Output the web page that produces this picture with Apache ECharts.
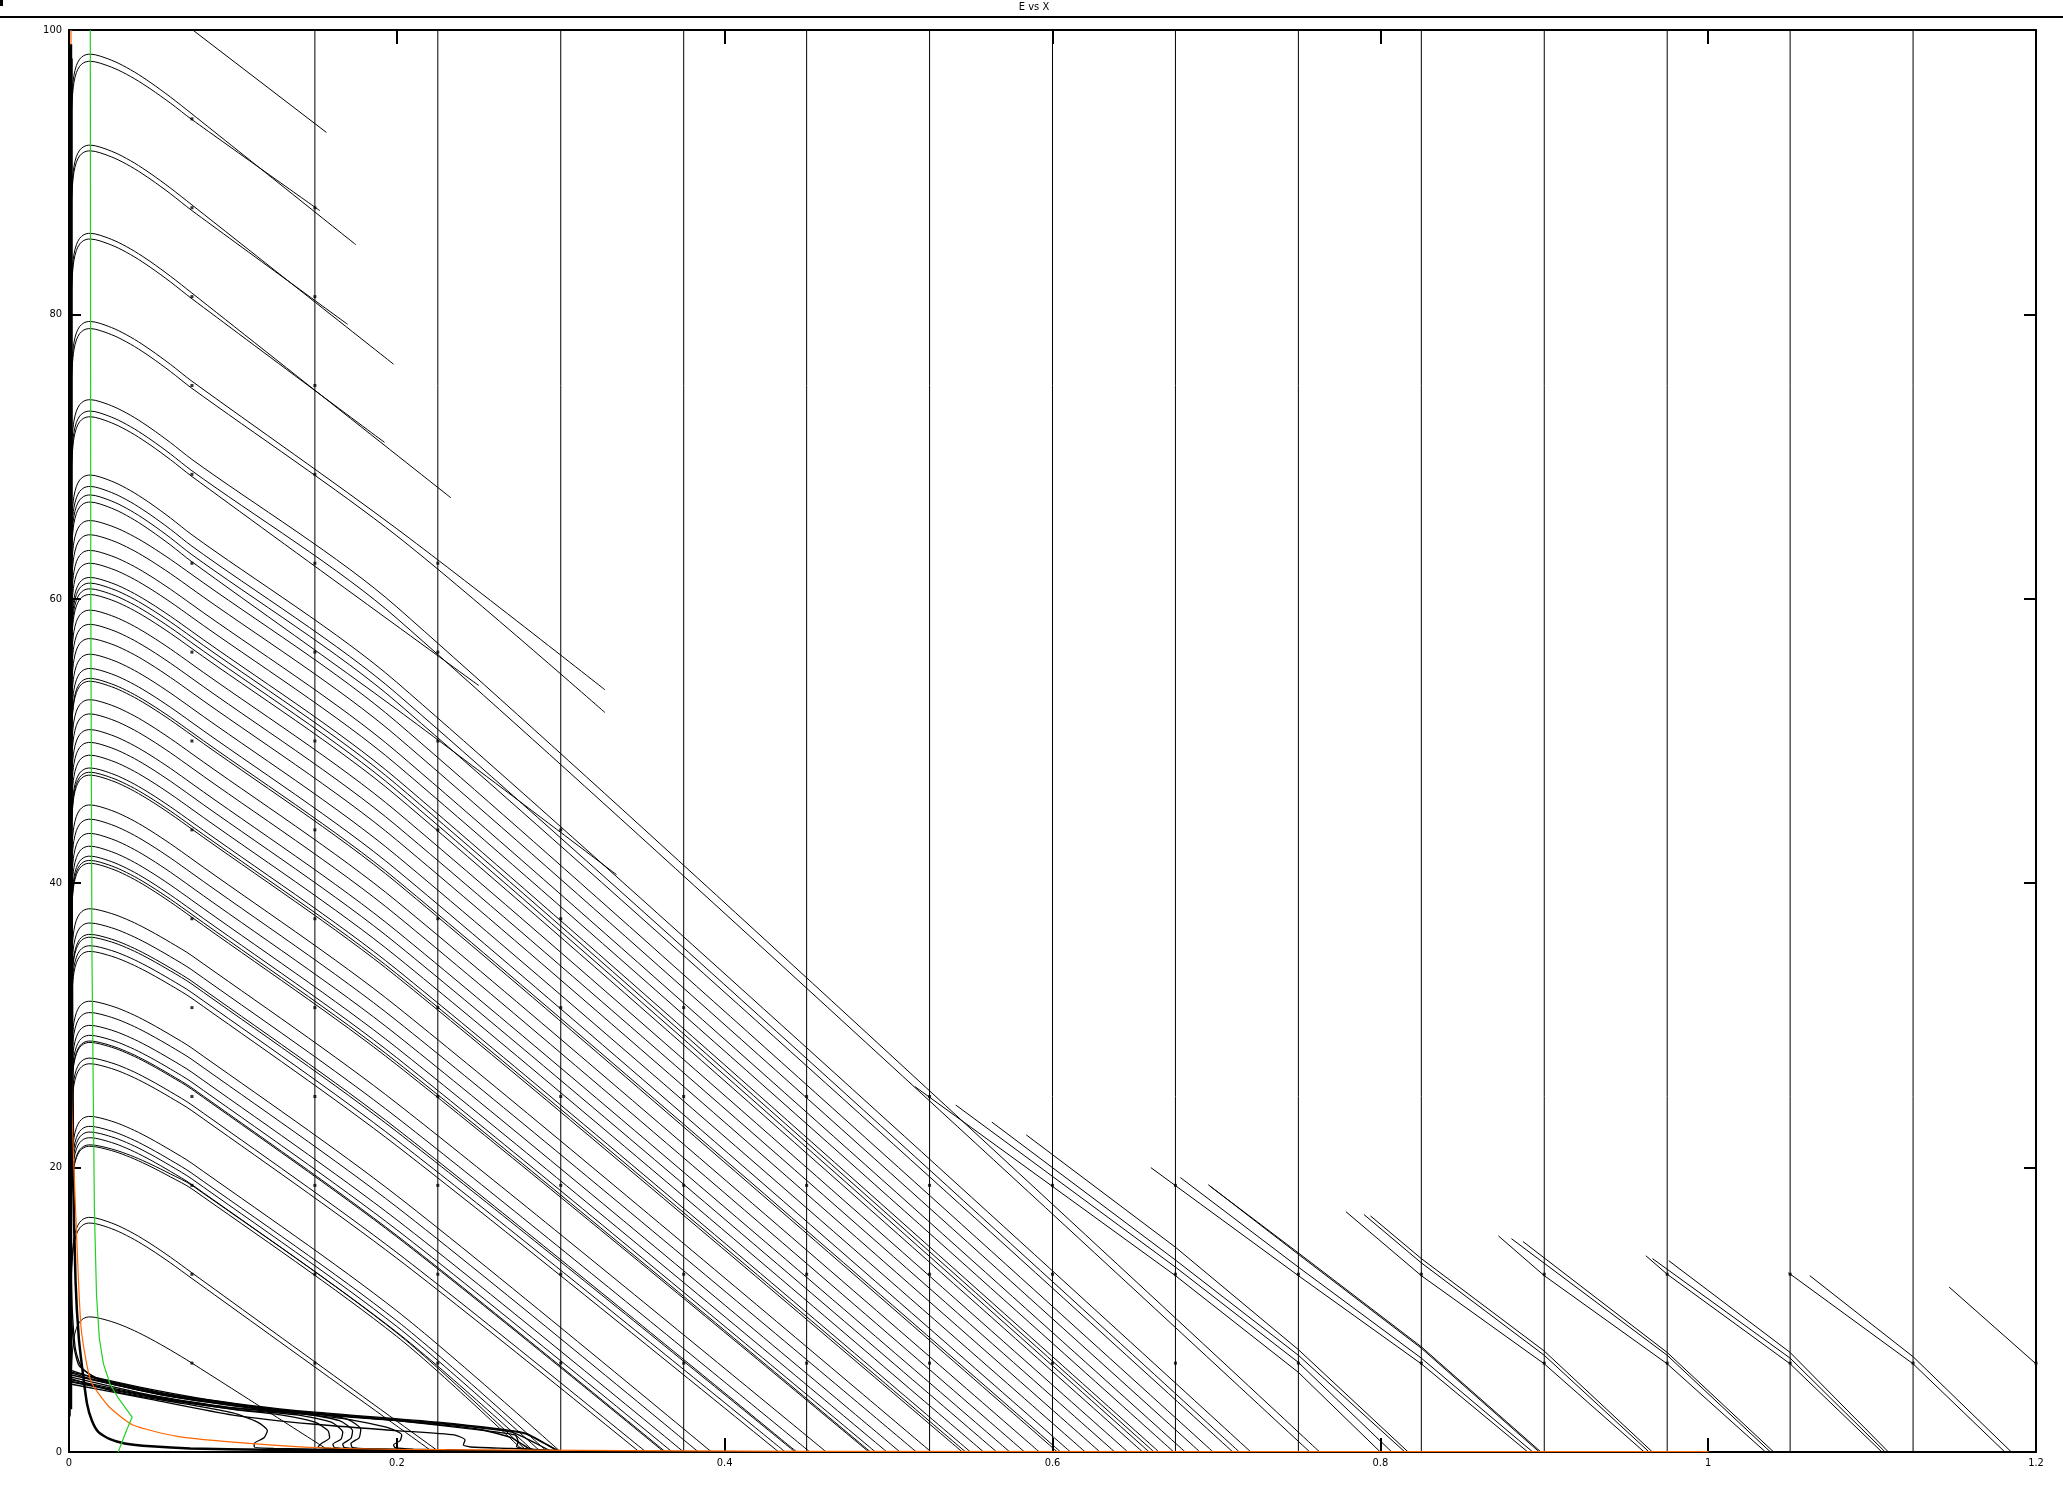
<!DOCTYPE html>
<html>
<head>
<meta charset="utf-8">
<script src="https://cdn.jsdelivr.net/npm/echarts@6/dist/echarts.min.js"></script>
<style>
html,body{margin:0;padding:0;background:#fff;}
#chart{width:2063px;height:1486px;}
</style>
</head>
<body>
<div id="chart"></div>
<script>
// ---------------- data ----------------
const chartTitle = 'E vs X';
const xTickValues = [0, 0.2, 0.4, 0.6, 0.8, 1, 1.2];
const yTickValues = [0, 20, 40, 60, 80, 100];

// constant-X trajectories (vertical lines)
const verticalX = [0.15, 0.225, 0.3, 0.375, 0.45, 0.525, 0.6, 0.675, 0.75, 0.825, 0.9, 0.975, 1.05, 1.125];

// shape of the hump near X=0: x positions, rise below peak, share of the fall to E at X=0.075
const humpX    = [0.0008, 0.0012, 0.002, 0.003, 0.0045, 0.0065, 0.009, 0.012, 0.016, 0.022, 0.03, 0.04, 0.05, 0.062, 0.075];
const humpRise = [7, 4.5, 2.6, 1.5, 0.8, 0.35, 0.1, 0, 0, 0, 0, 0, 0, 0, 0];
const humpFall = [0, 0, 0, 0, 0, 0, 0, 0, 0.01, 0.06, 0.15, 0.3, 0.48, 0.72, 1];
const kneeX = 0.2;          // the early slope holds up to here
const earlySlope = -83;     // dE/dX between X=0.075 and X=0.2 (through the dots)

// hump trajectories: [peak E, E at X=0.075, end X, end E]
const humps = [
 [98.3, 94.1, 0.175, 84.9], [97.8, 93.7, 0.153, 87.3],
 [91.9, 87.7, 0.198, 76.5], [91.5, 87.3, 0.170, 79.3],
 [85.7, 81.5, 0.233, 67.1], [85.3, 81.1, 0.1925, 71.0],
 [79.5, 75.3, 0.327, 53.6], [79.0, 74.8, 0.327, 52.0],
 [74.0, 69.8, 0.763, 0], [73.2, 69.0, 0.757, 0], [72.8, 68.6, 0.250, 53.9],
 [68.7, 64.5, 0.721, 0], [67.9, 63.7, 0.714, 0], [67.3, 63.1, 0.710, 0], [66.8, 62.6, 0.334, 40.6],
 [65.5, 61.7, 0.698, 0], [64.5, 60.7, 0.690, 0], [63.4, 59.6, 0.681, 0], [62.5, 58.7, 0.674, 0],
 [61.5, 57.7, 0.665, 0], [61.1, 57.3, 0.662, 0], [60.7, 56.9, 0.659, 0], [60.3, 56.5, 0.655, 0],
 [59.2, 55.4, 0.646, 0], [58.2, 54.4, 0.638, 0], [57.2, 53.4, 0.629, 0], [56.1, 52.3, 0.620, 0],
 [55.1, 51.3, 0.611, 0], [54.4, 50.6, 0.605, 0], [54.2, 50.4, 0.603, 0],
 [52.9, 49.1, 0.592, 0], [51.9, 48.1, 0.583, 0], [50.8, 47.0, 0.574, 0], [49.9, 46.1, 0.566, 0],
 [49.0, 45.2, 0.558, 0], [48.1, 44.3, 0.550, 0], [47.8, 44.0, 0.547, 0], [47.6, 43.8, 0.545, 0],
 [45.5, 41.7, 0.526, 0], [44.5, 40.7, 0.517, 0], [43.5, 39.7, 0.507, 0], [42.6, 38.8, 0.499, 0],
 [41.9, 38.1, 0.492, 0], [41.6, 37.8, 0.489, 0], [41.4, 37.6, 0.488, 0],
 [38.2, 34.9, 0.462, 0], [37.2, 33.9, 0.452, 0], [36.4, 33.1, 0.444, 0], [36.2, 32.9, 0.443, 0],
 [35.6, 32.3, 0.437, 0], [35.2, 31.9, 0.433, 0],
 [31.7, 28.4, 0.392, 0], [30.9, 27.6, 0.384, 0], [30.0, 26.7, 0.375, 0], [29.3, 26.0, 0.368, 0],
 [28.9, 25.6, 0.364, 0], [28.8, 25.5, 0.363, 0], [27.7, 24.4, 0.352, 0], [27.3, 24.0, 0.348, 0],
 [23.6, 20.3, 0.300, 0], [22.9, 19.6, 0.292, 0], [22.5, 19.2, 0.288, 0], [22.1, 18.8, 0.284, 0],
 [21.6, 18.75, 0.280, 0], [21.5, 18.5, 0.278, 0],
 [16.5, 12.6, 0.226, 0], [16.1, 12.2, 0.222, 0],
 [9.5, 6.25, 0.160, 0]
];

// free segments (upper straight piece and the short trajectories at lower right)
const freeSegments = [
 [[0.0755, 100], [0.157, 92.8]],
 [[0.516, 25.7], [0.675, 12.4], [0.75, 5.6], [0.800, 0]],
 [[0.541, 24.4], [0.675, 13.0], [0.75, 6.3], [0.807, 0]],
 [[0.563, 23.2], [0.675, 13.5], [0.75, 6.8], [0.815, 0]],
 [[0.584, 22.3], [0.675, 14.4], [0.75, 7.2], [0.817, 0]],
 [[0.660, 20.0], [0.75, 12.4], [0.825, 6.2], [0.890, 0]],
 [[0.678, 19.3], [0.75, 13.0], [0.825, 6.6], [0.893, 0]],
 [[0.695, 18.8], [0.75, 13.9], [0.825, 7.3], [0.897, 0]],
 [[0.696, 18.7], [0.75, 14.0], [0.825, 7.4], [0.898, 0]],
 [[0.779, 16.9], [0.825, 12.4], [0.9, 6.2], [0.961, 0]],
 [[0.790, 16.7], [0.825, 13.3], [0.9, 6.8], [0.964, 0]],
 [[0.794, 16.6], [0.825, 13.6], [0.9, 7.1], [0.966, 0]],
 [[0.872, 15.2], [0.9, 12.4], [0.975, 6.2], [1.035, 0]],
 [[0.880, 15.0], [0.975, 6.8], [1.038, 0]],
 [[0.887, 14.8], [0.975, 7.0], [1.040, 0]],
 [[0.962, 13.8], [0.975, 12.5], [1.05, 6.2], [1.106, 0]],
 [[0.966, 13.6], [1.05, 6.6], [1.108, 0]],
 [[0.976, 13.45], [1.05, 7.0], [1.110, 0]],
 [[1.049, 12.6], [1.125, 6.2], [1.181, 0]],
 [[1.062, 12.4], [1.125, 6.7], [1.185, 0]],
 [[1.147, 11.6], [1.2, 6.2]]
];

// low-E bundle near the bottom left
const bundleLines = [
 [[0,5.8],[0.02,5.05],[0.06,4.05],[0.109,3.25],[0.15,2.75],[0.225,2.05],[0.278,1.3],[0.29,0.6],[0.298,0.1],[0.302,0]],
 [[0,5.6],[0.02,4.95],[0.06,3.95],[0.109,3.15],[0.15,2.65],[0.2,2.2],[0.25,1.6],[0.27,1.0],[0.28,0.3],[0.29,0]],
 [[0,12.6],[0.0015,9.5],[0.003,7.4],[0.006,6.1],[0.012,5.5],[0.02,5.1],[0.06,4.1],[0.109,3.3],[0.15,2.8],[0.225,2.1],[0.278,1.35],[0.292,0.5],[0.3,0]],
 [[0,18.6],[0.001,14],[0.002,10],[0.004,7.2],[0.008,5.9],[0.02,5.0],[0.06,4.0],[0.109,3.2],[0.15,2.7],[0.225,2.0],[0.27,1.4],[0.285,0.6],[0.295,0]],
 [[0,5.2],[0.03,4.2],[0.07,3.4],[0.1,2.75],[0.115,2.1],[0.121,1.5],[0.119,1.0],[0.113,0.6],[0.113,0.35],[0.125,0.25],[0.16,0.18],[0.22,0.1],[0.29,0.03]],
 [[0,5.0],[0.05,3.9],[0.1,3.0],[0.13,2.6],[0.15,2.1],[0.158,1.5],[0.159,1.0],[0.154,0.6],[0.152,0.35],[0.16,0.25],[0.2,0.15],[0.28,0.05]],
 [[0,4.95],[0.05,3.85],[0.1,3.02],[0.14,2.6],[0.16,2.1],[0.167,1.4],[0.166,0.9],[0.161,0.55],[0.162,0.3],[0.175,0.22],[0.25,0.08]],
 [[0,5.1],[0.05,3.95],[0.1,3.08],[0.145,2.65],[0.165,2.2],[0.173,1.5],[0.172,0.95],[0.167,0.55],[0.168,0.3],[0.18,0.22],[0.25,0.08]],
 [[0,5.3],[0.05,4.0],[0.1,3.12],[0.15,2.7],[0.17,2.3],[0.178,1.6],[0.177,1.0],[0.172,0.6],[0.173,0.3],[0.185,0.22],[0.26,0.07]],
 [[0,5.45],[0.06,3.95],[0.12,2.95],[0.17,2.3],[0.195,1.7],[0.203,1.2],[0.202,0.8],[0.198,0.5],[0.199,0.3],[0.21,0.2],[0.27,0.06]],
 [[0,4.8],[0.05,3.7],[0.1,2.6],[0.15,1.95],[0.2,1.5],[0.235,1.2],[0.2416,0.85],[0.2406,0.5],[0.245,0.35],[0.27,0.25],[0.3,0.1]],
 [[0,5.65],[0.05,4.4],[0.1,3.4],[0.15,2.7],[0.2,2.2],[0.25,1.55],[0.272,1.2],[0.274,0.73],[0.273,0.38],[0.28,0.2],[0.3,0.05]]
];
// heavy curve that falls along the axis and runs along E=0
const heavyCurve = [[0.0015,98],[0.0016,40],[0.0025,20],[0.004,12],[0.006,8],[0.0085,5.5],[0.011,3.4],[0.014,2.2],[0.018,1.4],[0.025,0.9],[0.034,0.6],[0.05,0.4],[0.074,0.25],[0.12,0.15],[0.2,0.08],[0.3,0.03]];
// band of trajectory starts along the E axis
const leftBand = [[0.0012, 3], [0.0012, 99]];

const greenCurve = [[0.013,100],[0.0133,60],[0.014,35],[0.0155,17],[0.0168,11],[0.0185,8],[0.021,6.2],[0.025,4.8],[0.03,3.8],[0.0385,2.45],[0.035,1.5],[0.030,0]];
const orangeCurve = [[0.0012,100],[0.0012,40],[0.0016,25],[0.003,20],[0.005,14.2],[0.0075,8.6],[0.0133,5.0],[0.0243,3.2],[0.039,1.9],[0.066,1.1],[0.11,0.6],[0.153,0.3],[0.23,0.16],[0.45,0.05],[1.0,0.02]];

// dots drawn on the trajectories at the starting grid
const dotColumns = [
 [0.075, [6.25,12.5,18.75,25,31.25,37.5,43.75,50,56.25,62.5,68.75,75,81.25,87.5,93.75]],
 [0.15,  [6.25,12.5,18.75,25,31.25,37.5,43.75,50,56.25,62.5,68.75,75,81.25,87.5]],
 [0.225, [6.25,12.5,18.75,25,31.25,37.5,43.75,50,56.25,62.5]],
 [0.3,   [6.25,12.5,18.75,25,31.25,37.5,43.75]],
 [0.375, [6.25,12.5,18.75,25,31.25]],
 [0.45,  [6.25,12.5,18.75,25]],
 [0.525, [6.25,12.5,18.75,25]],
 [0.6,   [6.25,12.5,18.75]],
 [0.675, [6.25,12.5,18.75]],
 [0.75,  [6.25,12.5]],
 [0.825, [6.25,12.5]],
 [0.9,   [6.25,12.5]],
 [0.975, [6.25,12.5]],
 [1.05,  [6.25,12.5]],
 [1.125, [6.25]],
 [1.2,   [6.25]]
];

// ---------------- build ----------------
const FONT = "'Liberation Sans Narrow','DejaVu Sans Condensed','Liberation Sans',sans-serif";
const series = [];
function addLine(data, color, width, z, smooth) {
  series.push({
    type: 'line', data: data, symbol: 'none', showSymbol: false, silent: true,
    animation: false, smooth: smooth || false, z: z || 2,
    lineStyle: { color: color || '#000', width: width || 1 }
  });
}
verticalX.forEach(x => addLine([[x, 0], [x, 100]], '#000', 1));
humps.forEach(h => {
  const P = h[0], E075 = h[1], xEnd = h[2], eEnd = h[3];
  const pts = humpX.map((x, i) => [x, P - humpRise[i] - humpFall[i] * (P - E075)]);
  if (xEnd > 0.26) pts.push([kneeX, E075 + earlySlope * (kneeX - 0.075)]);
  pts.push([xEnd, eEnd]);
  addLine(pts, '#000', 1, 2, 0.3);
});
freeSegments.forEach(s => addLine(s, '#000', 1, 2));
bundleLines.forEach(s => addLine(s, '#000', 1.3, 2, 0.2));
addLine(heavyCurve, '#000', 2.5, 2, 0.2);
addLine(orangeCurve, '#ff6600', 1.2, 4, 0.2);
addLine(leftBand, '#000', 2.5, 4.5);
addLine(greenCurve, '#22d022', 1.2, 5);

const dots = [];
dotColumns.forEach(c => c[1].forEach(e => dots.push([c[0], e])));
series.push({ type: 'scatter', data: dots, symbol: 'rect', symbolSize: 3, silent: true, animation: false,
  itemStyle: { color: '#000' }, z: 3 });

function fmt(v) { return String(Math.round(v * 10) / 10); }
const axisLine = { show: true, onZero: false, lineStyle: { color: '#000', width: 2 } };
const label = { color: '#000', fontSize: 11, fontFamily: FONT };

const chart = echarts.init(document.getElementById('chart'), null, { renderer: 'canvas' });
chart.setOption({
  backgroundColor: '#fff',
  animation: false,
  grid: { left: 69, right: 27, top: 30, bottom: 34, containLabel: false },
  xAxis: [
    { type: 'value', min: xTickValues[0], max: xTickValues[xTickValues.length - 1], interval: 0.2, position: 'bottom',
      axisLine: axisLine, splitLine: { show: false },
      axisTick: { show: true, inside: true, length: 14, lineStyle: { color: '#000', width: 2 } },
      axisLabel: Object.assign({ margin: 6, formatter: fmt }, label) },
    { type: 'value', min: xTickValues[0], max: xTickValues[xTickValues.length - 1], interval: 0.2, position: 'top',
      axisLine: axisLine, splitLine: { show: false },
      axisTick: { show: true, inside: true, length: 14, lineStyle: { color: '#000', width: 2 } },
      axisLabel: { show: false } }
  ],
  yAxis: [
    { type: 'value', min: yTickValues[0], max: yTickValues[yTickValues.length - 1], interval: 20, position: 'left',
      axisLine: axisLine, splitLine: { show: false },
      axisTick: { show: true, inside: true, length: 12, lineStyle: { color: '#000', width: 2 } },
      axisLabel: Object.assign({ margin: 7 }, label) },
    { type: 'value', min: yTickValues[0], max: yTickValues[yTickValues.length - 1], interval: 20, position: 'right',
      axisLine: axisLine, splitLine: { show: false },
      axisTick: { show: true, inside: true, length: 12, lineStyle: { color: '#000', width: 2 } },
      axisLabel: { show: false } }
  ],
  graphic: [
    { type: 'rect', shape: { x: 0, y: 0, width: 3, height: 6 }, style: { fill: '#000' } },
    { type: 'line', shape: { x1: 0, y1: 17, x2: 2063, y2: 17 }, style: { stroke: '#000', lineWidth: 2 } },
    { type: 'text', x: 1034, y: 7, style: { text: chartTitle, fill: '#000', font: '11px ' + FONT,
      textAlign: 'center', textVerticalAlign: 'middle' } }
  ],
  series: series
});
</script>
</body>
</html>
